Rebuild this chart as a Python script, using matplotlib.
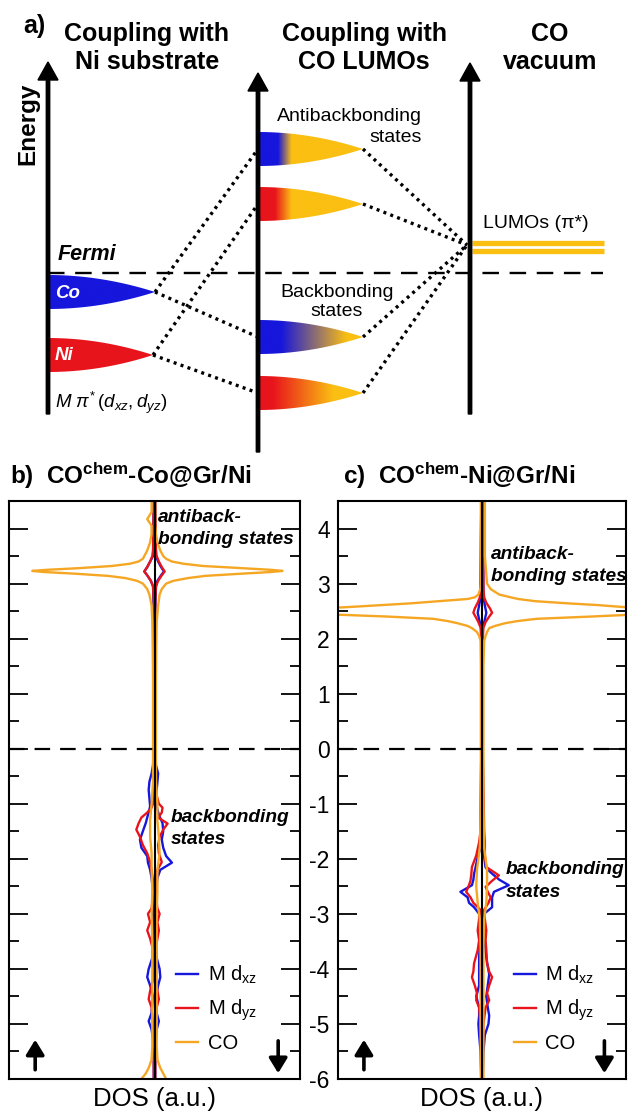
import numpy as np
import matplotlib
matplotlib.use("Agg")
import matplotlib.pyplot as plt
from matplotlib.colors import LinearSegmentedColormap
from matplotlib.patches import Polygon
from matplotlib.ticker import MultipleLocator

plt.rcParams["font.family"] = ["Liberation Sans", "DejaVu Sans"]
plt.rcParams["axes.unicode_minus"] = False
plt.rcParams["mathtext.fontset"] = "custom"
plt.rcParams["mathtext.rm"] = "Liberation Sans"
plt.rcParams["mathtext.it"] = "Liberation Sans:italic"
plt.rcParams["mathtext.bf"] = "Liberation Sans:bold"

BLUE = "#1616dc"
RED = "#e8141c"
ORANGE = "#f5a623"
GOLD = "#fbbf12"

W, H = 628, 1115

# ---------------- panel a: schematic (pixel units of the top strip) ----------------
ARROW_X = [48, 258, 470]
ARROW_TOP = [62, 73, 63]
ARROW_BOTTOM = [414, 452, 414]
FERMI_Y = 273
FERMI_X = (48, 603)

# metal pi* levels on the left axis: name, centre, colour
METAL_NAMES = ["Co", "Ni"]
METAL_Y = [292, 355]
METAL_COLORS = [BLUE, RED]
METAL_LEN = [107, 105]

# hybrid levels on the middle axis
HYB_Y = [149, 204, 337, 393]
HYB_FROM = [BLUE, RED, BLUE, RED]           # metal partner colour
HYB_BLEND = [(0.19, 0.32), (0.16, 0.32), (0.22, 0.85), (0.14, 0.72)]
HYB_PARTNER = [0, 1, 0, 1]                  # index into METAL_*
HYB_LEN = 105
LOBE_HH = 17

LUMO_Y = [243, 251]
LUMO_X = (472, 604)
LUMO_HUB = (467, 245)

# ---------------- panels b, c: projected DOS ----------------
# b) CO(chem)-Co@Gr/Ni ; "UP" drawn to the left, "DN" to the right
E_B_CO = [4.5, 4.3, 4.17, 4.05, 3.9, 3.75, 3.6, 3.5, 3.45, 3.4, 3.36, 3.32, 3.28, 3.25, 3.23,
          3.21, 3.18, 3.14, 3.1, 3.05, 3.0, 2.9, 2.8, 2.6, 2.3, 1.8, 1.2, 0.6, 0.0, -0.6,
          -1.0, -1.3, -1.6, -1.9, -2.2, -2.6, -3.0, -3.5, -4.0, -4.5, -5.0, -5.4, -5.65,
          -5.8, -5.9, -6.0]
CO_B_UP = [0.02, 0.02, 0.05, 0.02, 0.02, 0.03, 0.05, 0.07, 0.08, 0.11, 0.17, 0.29, 0.52, 0.74,
           0.84, 0.76, 0.55, 0.32, 0.2, 0.12, 0.08, 0.05, 0.035, 0.02, 0.015, 0.012, 0.01,
           0.01, 0.01, 0.01, 0.02, 0.03, 0.03, 0.02, 0.02, 0.015, 0.02, 0.015, 0.015, 0.015,
           0.015, 0.015, 0.02, 0.04, 0.06, 0.09]
CO_B_DN = [0.005, 0.005, 0.005, 0.005, 0.01, 0.02, 0.04, 0.06, 0.08, 0.12, 0.2, 0.33, 0.6,
           0.8, 0.88, 0.8, 0.6, 0.35, 0.23, 0.13, 0.08, 0.05, 0.035, 0.025, 0.015, 0.012,
           0.01, 0.01, 0.01, 0.01, 0.02, 0.02, 0.03, 0.035, 0.02, 0.02, 0.015, 0.015, 0.015,
           0.015, 0.015, 0.015, 0.02, 0.04, 0.06, 0.08]

E_B_DXZ = [4.5, 3.5, 3.4, 3.3, 3.22, 3.15, 3.05, 2.95, 2.5, 1.0, 0.0, -0.3, -0.45, -0.6,
           -0.75, -0.9, -1.05, -1.2, -1.35, -1.5, -1.65, -1.8, -1.95, -2.07, -2.2, -2.35,
           -2.6, -3.0, -3.5, -3.8, -4.0, -4.15, -4.3, -4.5, -4.8, -4.95, -5.1, -5.3, -5.6, -6.0]
DXZ_B_UP = [0.005, 0.01, 0.03, 0.05, 0.07, 0.05, 0.025, 0.01, 0.005, 0.005, 0.005, 0.01,
            0.02, 0.035, 0.04, 0.035, 0.03, 0.045, 0.06, 0.08, 0.1, 0.09, 0.05, 0.045, 0.03,
            0.02, 0.01, 0.01, 0.01, 0.015, 0.04, 0.05, 0.03, 0.01, 0.02, 0.04, 0.02, 0.01,
            0.005, 0.005]
DXZ_B_DN = [0.005, 0.01, 0.025, 0.045, 0.065, 0.045, 0.02, 0.01, 0.005, 0.005, 0.005, 0.01,
            0.025, 0.02, 0.015, 0.01, 0.015, 0.03, 0.055, 0.06, 0.05, 0.06, 0.08, 0.12, 0.04,
            0.02, 0.01, 0.01, 0.01, 0.015, 0.035, 0.04, 0.025, 0.01, 0.015, 0.03, 0.015, 0.01,
            0.005, 0.005]

E_B_DYZ = [4.5, 3.6, 3.5, 3.4, 3.3, 3.22, 3.15, 3.05, 2.95, 2.7, 1.0, 0.0, -0.8, -1.0,
           -1.07, -1.16, -1.25, -1.36, -1.47, -1.6, -1.75, -1.9, -2.06, -2.2, -2.4, -2.7,
           -2.9, -3.0, -3.15, -3.3, -3.45, -3.6, -3.8, -4.2, -4.4, -4.55, -4.7, -5.0, -5.5, -6.0]
DYZ_B_UP = [0.005, 0.01, 0.015, 0.03, 0.05, 0.07, 0.05, 0.025, 0.01, 0.005, 0.005, 0.005,
            0.005, 0.01, 0.02, 0.05, 0.09, 0.11, 0.125, 0.1, 0.08, 0.05, 0.03, 0.02, 0.01,
            0.01, 0.02, 0.045, 0.03, 0.05, 0.03, 0.015, 0.01, 0.01, 0.03, 0.04, 0.02, 0.01,
            0.005, 0.005]
DYZ_B_DN = [0.005, 0.01, 0.015, 0.03, 0.05, 0.07, 0.05, 0.025, 0.01, 0.005, 0.005, 0.005,
            0.01, 0.03, 0.055, 0.05, 0.025, 0.09, 0.06, 0.035, 0.025, 0.03, 0.05, 0.02, 0.01,
            0.01, 0.02, 0.035, 0.02, 0.03, 0.02, 0.01, 0.01, 0.01, 0.02, 0.03, 0.015, 0.01,
            0.005, 0.005]

# c) CO(chem)-Ni@Gr/Ni
E_C_CO = [4.5, 4.0, 3.5, 3.0, 2.9, 2.8, 2.75, 2.72, 2.68, 2.64, 2.61, 2.57, 2.53, 2.49,
          2.46, 2.43, 2.4, 2.36, 2.32, 2.28, 2.23, 2.19, 2.12, 2.05, 1.96, 1.5, 1.0, 0.0,
          -1.0, -1.8, -2.2, -2.5, -2.8, -3.1, -3.6, -4.2, -5.0, -6.0]
CO_C_UP = [0.008, 0.008, 0.008, 0.008, 0.012, 0.025, 0.05, 0.1, 0.3, 0.5, 0.69, 0.95, 1.3,
           1.6, 1.35, 0.95, 0.65, 0.34, 0.24, 0.17, 0.1, 0.07, 0.035, 0.02, 0.01, 0.008,
           0.008, 0.008, 0.008, 0.015, 0.035, 0.04, 0.03, 0.015, 0.01, 0.01, 0.01, 0.008]
CO_C_DN = [0.02, 0.02, 0.02, 0.035, 0.06, 0.12, 0.2, 0.25, 0.37, 0.6, 0.8, 1.0, 1.3, 1.6,
           1.4, 1.0, 0.75, 0.38, 0.25, 0.16, 0.09, 0.05, 0.035, 0.025, 0.015, 0.01, 0.01,
           0.01, 0.01, 0.015, 0.035, 0.035, 0.03, 0.015, 0.01, 0.01, 0.01, 0.01]

E_C_DXZ = [4.5, 2.75, 2.6, 2.47, 2.35, 2.2, 0.0, -1.8, -1.97, -2.16, -2.27, -2.38, -2.48,
           -2.6, -2.7, -2.8, -2.88, -3.0, -3.2, -3.5, -3.8, -4.1, -4.3, -4.5, -4.7, -4.85,
           -5.0, -5.2, -5.5, -6.0]
DXZ_C_UP = [0.005, 0.01, 0.02, 0.03, 0.02, 0.005, 0.005, 0.01, 0.03, 0.045, 0.055, 0.06,
            0.07, 0.15, 0.1, 0.09, 0.055, 0.02, 0.02, 0.015, 0.02, 0.02, 0.02, 0.04, 0.02,
            0.02, 0.025, 0.02, 0.01, 0.005]
DXZ_C_DN = [0.005, 0.01, 0.02, 0.03, 0.02, 0.005, 0.005, 0.01, 0.015, 0.025, 0.07, 0.12,
            0.186, 0.083, 0.07, 0.07, 0.07, 0.014, 0.02, 0.02, 0.03, 0.05, 0.04, 0.03, 0.04,
            0.05, 0.045, 0.02, 0.01, 0.005]

E_C_DYZ = [4.5, 2.9, 2.75, 2.65, 2.55, 2.47, 2.4, 2.3, 2.2, 2.0, 0.0, -1.5, -1.7, -1.94,
           -2.15, -2.3, -2.4, -2.51, -2.6, -2.7, -2.8, -2.93, -3.1, -3.3, -3.48, -3.66, -3.9,
           -4.05, -4.15, -4.3, -4.44, -4.57, -4.7, -5.0, -5.5, -6.0]
DYZ_C_UP = [0.005, 0.01, 0.015, 0.03, 0.05, 0.06, 0.045, 0.025, 0.01, 0.005, 0.005, 0.01,
            0.02, 0.04, 0.07, 0.075, 0.08, 0.095, 0.11, 0.08, 0.06, 0.01, 0.02, 0.03, 0.02,
            0.03, 0.055, 0.06, 0.07, 0.05, 0.035, 0.04, 0.02, 0.01, 0.005, 0.005]
DYZ_C_DN = [0.005, 0.01, 0.015, 0.03, 0.055, 0.07, 0.05, 0.025, 0.01, 0.005, 0.005, 0.015,
            0.02, 0.02, 0.03, 0.117, 0.07, 0.025, 0.04, 0.06, 0.045, 0.014, 0.02, 0.03, 0.025,
            0.03, 0.035, 0.05, 0.07, 0.05, 0.035, 0.05, 0.025, 0.01, 0.005, 0.005]

LEGEND_LABELS = [r"M d$_{\mathrm{xz}}$", r"M d$_{\mathrm{yz}}$", "CO"]


def px(x, y):
    return x / W, 1 - y / H


def lobe(ax, x0, yc, length, c0, c1, t0, t1):
    t = np.linspace(0, 1, 80)
    hw = LOBE_HH * (1 - t ** 2)
    xs = x0 + t * length
    pts = np.column_stack([np.r_[xs, xs[::-1]], np.r_[yc - hw, (yc + hw)[::-1]]])
    poly = Polygon(pts, closed=True, fc="none", ec="none")
    ax.add_patch(poly)
    cmap = LinearSegmentedColormap.from_list("g", [(0, c0), (t0, c0), (t1, c1), (1, c1)])
    im = ax.imshow(np.linspace(0, 1, 256)[None, :], cmap=cmap, aspect="auto",
                   extent=(x0, x0 + length, yc + LOBE_HH, yc - LOBE_HH),
                   interpolation="bilinear")
    im.set_clip_path(poly)


fig = plt.figure(figsize=(W / 100, H / 100), dpi=100)

# ---------------- panel a ----------------
ax_a = fig.add_axes([0, 1 - 460 / H, 1, 460 / H])
ax_a.axis("off")

for x, top, bot in zip(ARROW_X, ARROW_TOP, ARROW_BOTTOM):
    ax_a.arrow(x, bot, 0, top - bot, width=3.4, head_width=20, head_length=18,
               length_includes_head=True, fc="k", ec="k", zorder=4)

ax_a.plot(FERMI_X, [FERMI_Y, FERMI_Y], color="k", lw=1.7, dashes=(7, 4.5), zorder=3)

for name, yc, col, ln in zip(METAL_NAMES, METAL_Y, METAL_COLORS, METAL_LEN):
    lobe(ax_a, ARROW_X[0], yc, ln, col, col, 0.5, 0.6)
    ax_a.text(ARROW_X[0] + 7, yc + 1, name, color="white", fontsize=13.5,
              fontweight="bold", style="italic", ha="left", va="center", zorder=5)

dotted = dict(color="k", lw=2.4, linestyle=(0, (0.9, 1.3)), zorder=3)
for yc, c0, (t0, t1), partner in zip(HYB_Y, HYB_FROM, HYB_BLEND, HYB_PARTNER):
    lobe(ax_a, ARROW_X[1], yc, HYB_LEN, c0, GOLD, t0, t1)
    tip = (ARROW_X[0] + METAL_LEN[partner], METAL_Y[partner])
    ax_a.plot([tip[0], ARROW_X[1]], [tip[1], yc], **dotted)
    ax_a.plot([ARROW_X[1] + HYB_LEN, LUMO_HUB[0]], [yc, LUMO_HUB[1]], **dotted)

for y in LUMO_Y:
    ax_a.plot(LUMO_X, [y, y], color=GOLD, lw=3.8, solid_capstyle="butt", zorder=2)

ax_a.text(23, 26, "a)", fontsize=18, fontweight="bold", ha="left", va="center")
ax_a.text(28, 124, "Energy", fontsize=17.5, fontweight="bold", rotation=90,
          ha="center", va="center")
for x, txt in zip([147, 364, 550], ["Coupling with\nNi substrate",
                                    "Coupling with\nCO LUMOs", "CO\nvacuum"]):
    ax_a.text(x, 48, txt, fontsize=18, fontweight="bold", ha="center", va="center",
              linespacing=1.25)
ax_a.text(58, 255, "Fermi", fontsize=15.5, fontweight="bold", style="italic",
          ha="left", va="center")
ax_a.text(55, 403, r"$M\ \pi^{*}\,(d_{xz},d_{yz})$", fontsize=13.5, ha="left", va="center")
ax_a.text(422, 127, "Antibackbonding\nstates", fontsize=14, ha="right", va="center",
          multialignment="right", linespacing=1.25)
ax_a.text(337, 302, "Backbonding\nstates", fontsize=14, ha="center", va="center",
          linespacing=1.22)
ax_a.text(483, 223, "LUMOs (π*)", fontsize=14, ha="left", va="center")

ax_a.set_xlim(0, W)
ax_a.set_ylim(460, 0)

# ---------------- panels b, c ----------------
panels = [
    dict(rect=(9, 300), title=r"b)  CO$^{\mathbf{chem}}$-Co@Gr/Ni", tx=10,
         series=[(E_B_DXZ, DXZ_B_UP, DXZ_B_DN, BLUE), (E_B_DYZ, DYZ_B_UP, DYZ_B_DN, RED),
                 (E_B_CO, CO_B_UP, CO_B_DN, ORANGE)],
         anti=(158, 522, 544), back=(171, 822, 844), leg=0.575, labels=False),
    dict(rect=(338, 626), title=r"c)  CO$^{\mathbf{chem}}$-Ni@Gr/Ni", tx=343,
         series=[(E_C_DXZ, DXZ_C_UP, DXZ_C_DN, BLUE), (E_C_DYZ, DYZ_C_UP, DYZ_C_DN, RED),
                 (E_C_CO, CO_C_UP, CO_C_DN, ORANGE)],
         anti=(491, 559, 581), back=(506, 874, 897), leg=0.61, labels=True),
]

TOP, BOT = 501, 1079
for p in panels:
    x0, x1 = p["rect"]
    ax = fig.add_axes([x0 / W, 1 - BOT / H, (x1 - x0) / W, (BOT - TOP) / H])
    handles = []
    for e, up, dn, col in p["series"]:
        e = np.asarray(e)
        ax.plot(-np.asarray(up), e, color=col, lw=1.7, zorder=2)
        h, = ax.plot(np.asarray(dn), e, color=col, lw=1.7, zorder=2)
        handles.append(h)
    ax.axvline(0, color="k", lw=1.5, zorder=5)
    ax.axhline(0, color="k", lw=1.6, dashes=(7, 4.5), zorder=5)
    ax.set_xlim(-1, 1)
    ax.set_ylim(-6, 4.5)
    ax.set_xticks([])
    ax.yaxis.set_major_locator(MultipleLocator(1))
    ax.yaxis.set_minor_locator(MultipleLocator(0.5))
    ax.tick_params(axis="y", which="both", direction="in", left=True, right=True,
                   width=1.3, labelsize=16.5, pad=6, labelleft=p["labels"])
    ax.tick_params(axis="y", which="major", length=14)
    ax.tick_params(axis="y", which="minor", length=7)
    for s in ax.spines.values():
        s.set_linewidth(1.5)
    ax.set_xlabel("DOS (a.u.)", fontsize=18.5, labelpad=6)

    ax.legend(handles, LEGEND_LABELS, loc="lower left", bbox_to_anchor=(p["leg"], 0.045),
              frameon=False, fontsize=14.5, handlelength=1.1, handletextpad=0.45,
              labelspacing=0.55, borderpad=0, borderaxespad=0)

    arrow = dict(arrowstyle="-|>,head_length=0.9,head_width=0.55", lw=2.6, color="k",
                 shrinkA=0, shrinkB=0, mutation_scale=10)
    ax.annotate("", xy=(0.09, 0.068), xytext=(0.09, 0.016), xycoords="axes fraction",
                arrowprops=arrow)
    ax.annotate("", xy=(0.925, 0.01), xytext=(0.925, 0.066), xycoords="axes fraction",
                arrowprops=arrow)

    fig.text(*px(p["tx"], 476), p["title"], fontsize=17.5, fontweight="bold",
             ha="left", va="center")
    tx, y1, y2 = p["anti"]
    fig.text(*px(tx, y1), "antiback-", fontsize=13.8, fontweight="bold", style="italic",
             va="baseline")
    fig.text(*px(tx, y2), "bonding states", fontsize=13.8, fontweight="bold",
             style="italic", va="baseline")
    bx, y1, y2 = p["back"]
    fig.text(*px(bx, y1), "backbonding", fontsize=13.8, fontweight="bold", style="italic",
             va="baseline")
    fig.text(*px(bx, y2), "states", fontsize=13.8, fontweight="bold", style="italic",
             va="baseline")

fig.savefig("out.png", dpi=100)
